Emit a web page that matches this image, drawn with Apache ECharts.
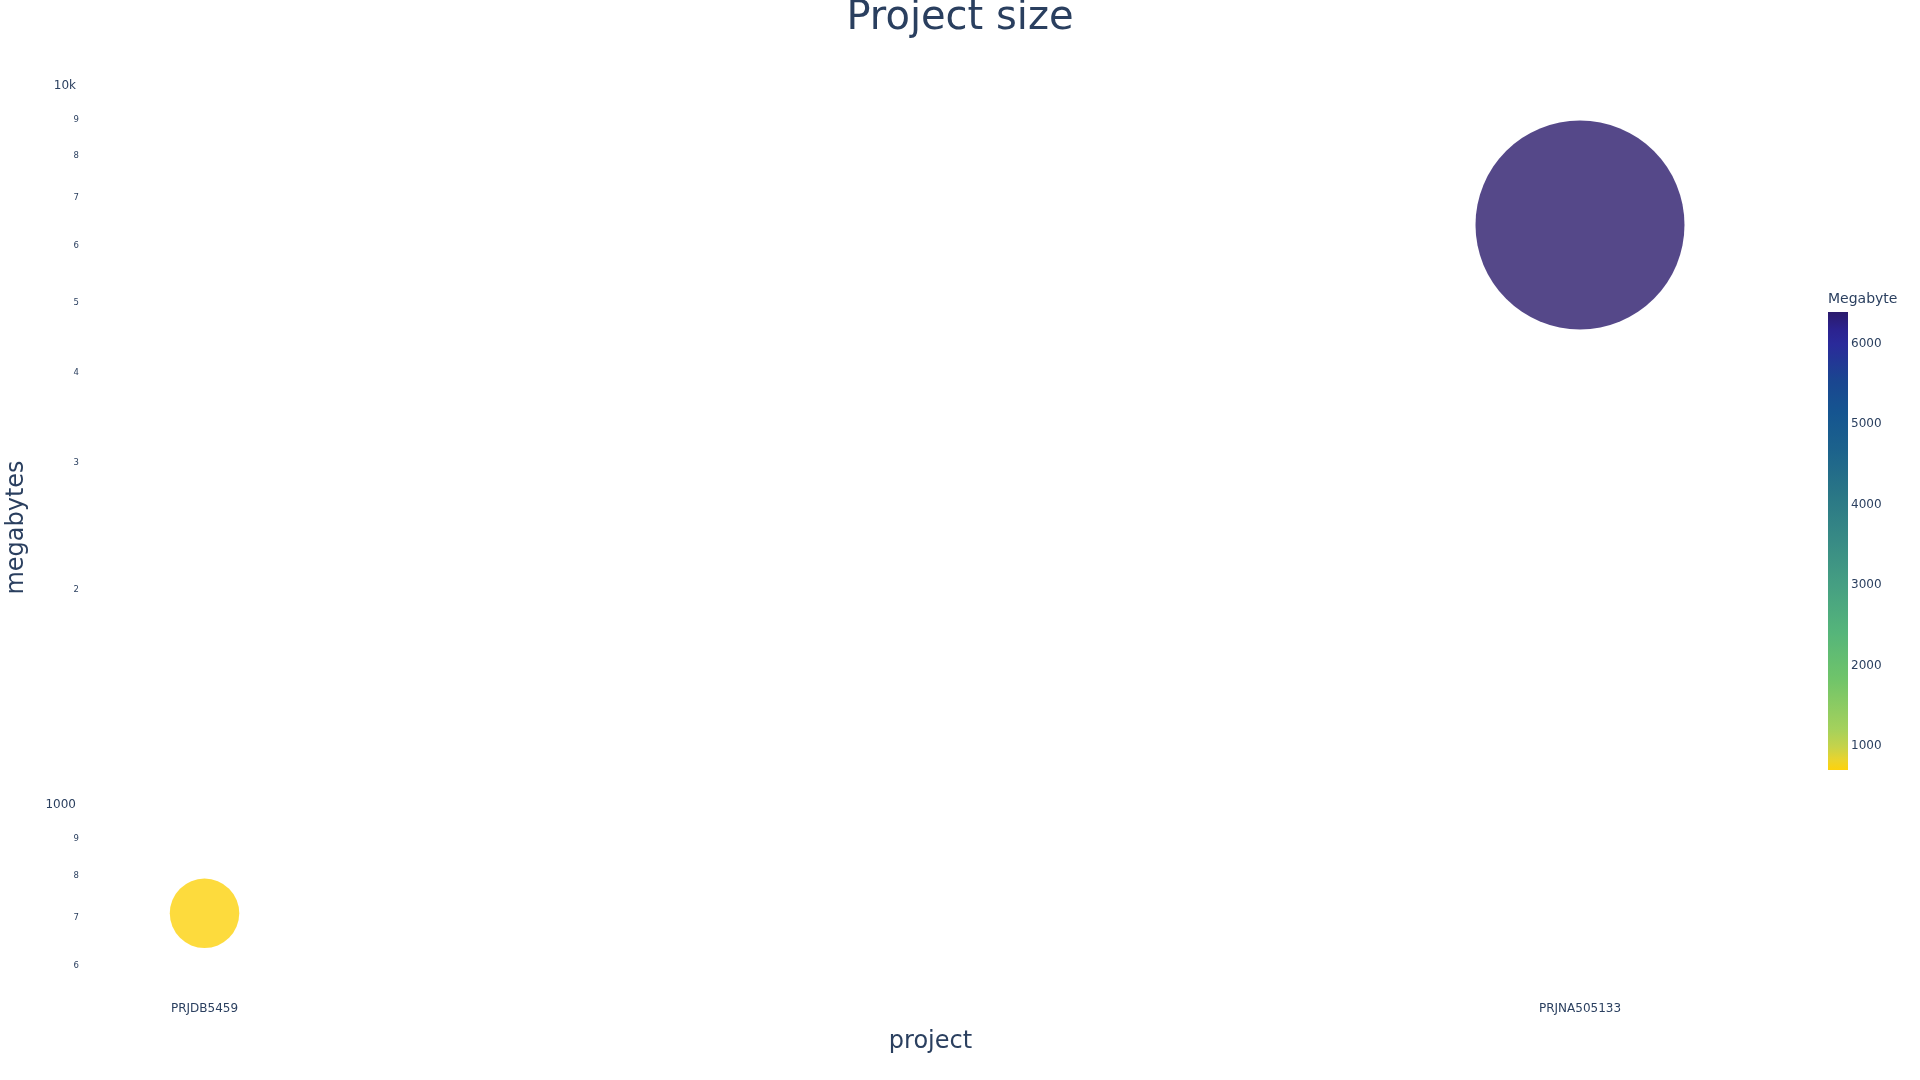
<!DOCTYPE html>
<html>
<head>
<meta charset="utf-8">
<script src="https://cdn.jsdelivr.net/npm/echarts@6/dist/echarts.min.js"></script>
<style>
html,body{margin:0;padding:0;background:#fff;}
#chart{width:1920px;height:1080px;}
</style>
</head>
<body>
<div id="chart"></div>
<script>
// ---- data ----
const projects = ['PRJDB5459', 'PRJNA505133'];
const megabytes = [702, 6350];
const yTickValues = [600, 700, 800, 900, 1000, 2000, 3000, 4000, 5000, 6000, 7000, 8000, 9000, 10000];
const colorbarTicks = [1000, 2000, 3000, 4000, 5000, 6000];
const colorbarMax = 6390;

// ---- style ----
const TXT = '#2a3f5f';
const FONT = 'DejaVu Sans';
// colour scale from low (bottom) to high (top)
const scaleOffsets = [0.00, 0.02, 0.05, 0.09, 0.20, 0.30, 0.40, 0.50, 0.60, 0.70, 0.78, 0.85, 0.93, 0.96, 1.00];
const scaleColors  = ['#fdd20c', '#ecd42a', '#c6d34a', '#a4d15c', '#6fc46a', '#55b57a', '#46a082', '#388b85', '#2a7786', '#1c628c', '#155590', '#1a4690', '#2a2a9a', '#2b2390', '#2b1a6c'];

const vMin = Math.min(...megabytes);
const vMax = Math.max(...megabytes);
const maxDiameter = 209;

const chart = echarts.init(document.getElementById('chart'));

const gradient = {
  type: 'linear', x: 0, y: 1, x2: 0, y2: 0,
  colorStops: scaleOffsets.map((o, i) => ({ offset: o, color: scaleColors[i] }))
};

function colorAt(f) {
  for (let i = 1; i < scaleOffsets.length; i++) {
    if (f <= scaleOffsets[i]) {
      const t = (f - scaleOffsets[i - 1]) / (scaleOffsets[i] - scaleOffsets[i - 1]);
      const a = echarts.color.parse(scaleColors[i - 1]);
      const b = echarts.color.parse(scaleColors[i]);
      return 'rgb(' + [0, 1, 2].map(k => Math.round(a[k] + (b[k] - a[k]) * t)).join(',') + ')';
    }
  }
  return scaleColors[scaleColors.length - 1];
}
const vmColors = [];
for (let i = 0; i <= 50; i++) vmColors.push(colorAt(i / 50));

const option = {
  backgroundColor: '#fff',
  animation: false,
  textStyle: { fontFamily: FONT, color: TXT },
  title: [
    {
      text: 'Project size', left: 'center', top: -1, padding: 0,
      textStyle: { fontFamily: FONT, fontSize: 40, fontWeight: 'normal', color: TXT }
    },
    {
      text: 'Megabyte', left: 1828, top: 292, padding: 0,
      textStyle: { fontFamily: FONT, fontSize: 14, fontWeight: 'normal', color: TXT }
    }
  ],
  grid: [
    { left: 85, right: 144, top: 60, bottom: 85, show: false, outerBoundsMode: 'none', containLabel: false },
    { left: 1828, width: 20, top: 312, height: 458, show: true, backgroundColor: gradient, borderWidth: 0, outerBoundsMode: 'none', containLabel: false }
  ],
  visualMap: {
    show: false, type: 'continuous', seriesIndex: 0, dimension: 1,
    min: vMin, max: vMax,
    inRange: { color: vmColors }
  },
  xAxis: [
    {
      gridIndex: 0, type: 'value', min: -0.0869, max: 1.1425,
      name: 'project', nameLocation: 'middle', nameGap: 35,
      nameTextStyle: { fontFamily: FONT, fontSize: 24, color: TXT },
      axisLine: { show: false }, axisTick: { show: false }, splitLine: { show: false },
      axisLabel: {
        customValues: projects.map((p, i) => i),
        formatter: v => projects[Math.round(v)] || '',
        fontFamily: FONT, fontSize: 12, color: TXT, margin: 8
      }
    },
    {
      gridIndex: 1, type: 'value', show: false, min: 0, max: 1
    }
  ],
  yAxis: [
    {
      gridIndex: 0, type: 'log', logBase: 10, min: 540.5, max: 10763,
      name: 'megabytes', nameLocation: 'middle', nameGap: 56, nameRotate: 90,
      nameTextStyle: { fontFamily: FONT, fontSize: 24, color: TXT },
      axisLine: { show: false }, axisTick: { show: false }, splitLine: { show: false },
      minorTick: { show: false }, minorSplitLine: { show: false },
      axisLabel: {
        customValues: yTickValues,
        showMinLabel: true, showMaxLabel: true,
        margin: 6,
        formatter: v => {
          const r = Math.round(v);
          if (r === 10000) return '{maj|10k}';
          if (r === 1000) return '{maj|1000}';
          const d = Math.round(r / Math.pow(10, Math.floor(Math.log10(r))));
          return '{mnr|' + d + '}';
        },
        rich: {
          maj: { fontFamily: FONT, fontSize: 12, color: TXT, padding: [5, 3, 0, 0] },
          mnr: { fontFamily: FONT, fontSize: 8.5, color: TXT, padding: [7, 0, 0, 0] }
        }
      }
    },
    {
      gridIndex: 1, type: 'value', position: 'right', min: vMin, max: colorbarMax,
      axisLine: { show: false }, axisTick: { show: false }, splitLine: { show: false },
      axisLabel: {
        customValues: colorbarTicks,
        formatter: v => String(Math.round(v)),
        padding: [5, 0, 0, 0],
        fontFamily: FONT, fontSize: 12, color: TXT, margin: 3
      }
    }
  ],
  series: [
    {
      type: 'scatter', xAxisIndex: 0, yAxisIndex: 0,
      symbol: 'circle',
      data: projects.map((p, i) => [i, megabytes[i]]),
      symbolSize: val => maxDiameter * Math.sqrt(val[1] / vMax),
      itemStyle: { opacity: 0.8 }
    }
  ]
};

chart.setOption(option);
</script>
</body>
</html>
